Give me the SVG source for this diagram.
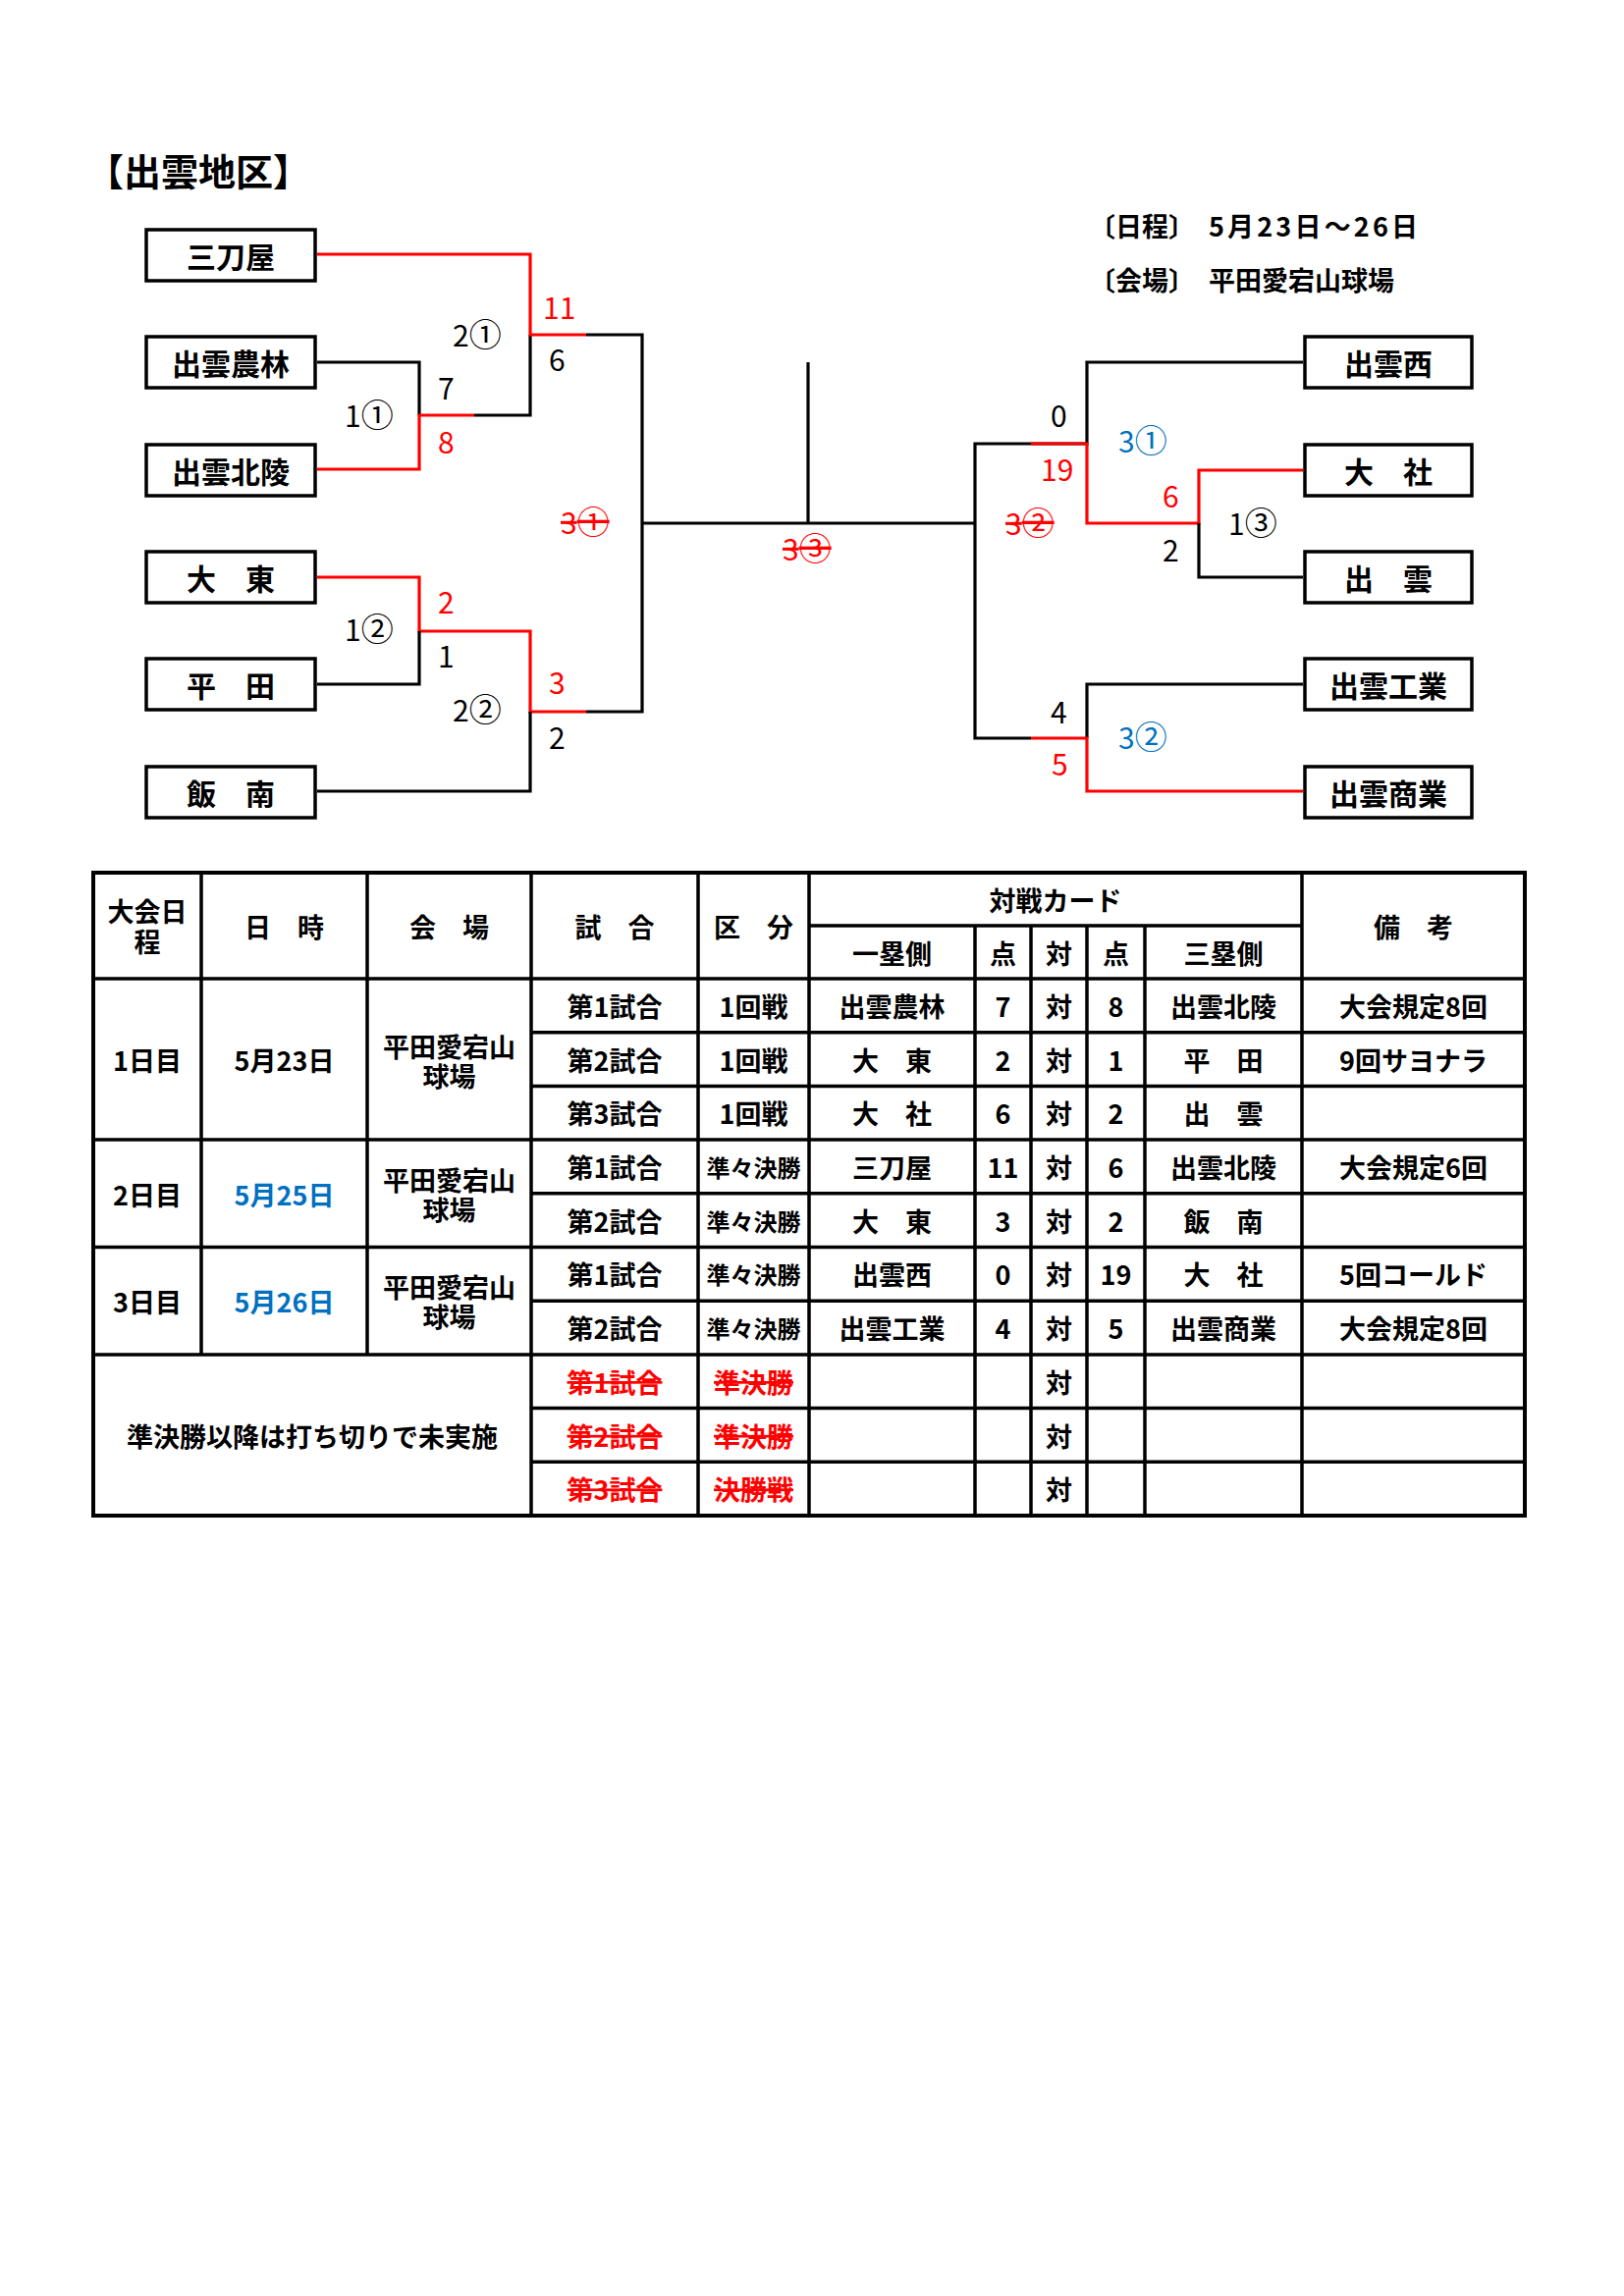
<svg xmlns="http://www.w3.org/2000/svg" width="1654" height="2339" viewBox="0 0 1654 2339">
<style>
text{font-family:"Noto Sans CJK JP","Noto Sans CJK SC",sans-serif;}
.title{font-size:38px;font-weight:700;}
.info{font-size:27px;font-weight:700;}
.box{fill:#fff;stroke:#000;stroke-width:3.5;}
.bt{font-size:30px;font-weight:700;text-anchor:middle;dominant-baseline:central;}
.lb{font-size:30px;}
.c{font-size:33px;}
.red{fill:#ff0000;}
.blue{fill:#0070c0;}
.strike{text-decoration:line-through;}
.k{fill:none;stroke:#000;stroke-width:3.2;}
.r{fill:none;stroke:#ff0000;stroke-width:3.2;}
.tl{stroke:#000;stroke-width:3.5;fill:none;}
.tt{font-size:27px;font-weight:700;text-anchor:middle;dominant-baseline:central;}
.ts{font-size:24px;font-weight:700;text-anchor:middle;dominant-baseline:central;}
</style>

<text class="title" x="88" y="189">【出雲地区】</text>
<text class="info" x="1109" y="241">〔日程〕</text>
<text class="info" x="1231" y="241" textLength="213" lengthAdjust="spacing">5月23日～26日</text>
<text class="info" x="1109" y="296">〔会場〕</text>
<text class="info" x="1231" y="296">平田愛宕山球場</text>

<g id="connectors">
<path class="k" d="M323,369 H427 V423"/>
<path class="r" d="M323,478 H427 V423 H483"/>
<path class="k" d="M483,423 H540 V341"/>
<path class="r" d="M323,259 H540 V341 H597"/>
<path class="k" d="M597,341 H654 V725 H597"/>
<path class="r" d="M323,588 H427 V643 H540 V725 H597"/>
<path class="k" d="M323,697 H427 V643"/>
<path class="k" d="M323,806 H540 V725"/>
<path class="k" d="M654,533 H993"/>
<path class="k" d="M823,369 V533"/>
<path class="k" d="M1327,369 H1107 V452 H1050"/>
<path class="k" d="M1050,452 H993 V752 H1050"/>
<path class="r" d="M1050,452 H1107 V533 H1221 V479 H1327"/>
<path class="k" d="M1221,533 V588 H1327"/>
<path class="k" d="M1327,697 H1107 V752"/>
<path class="r" d="M1050,752 H1107 V806 H1327"/>
</g>

<g id="n-mitoya"><rect class="box" x="149" y="234" width="172" height="52"/><text class="bt" x="235" y="260">三刀屋</text></g>
<g id="n-izumonorin"><rect class="box" x="149" y="343" width="172" height="52"/><text class="bt" x="235" y="369">出雲農林</text></g>
<g id="n-izumohokuryo"><rect class="box" x="149" y="453" width="172" height="52"/><text class="bt" x="235" y="479">出雲北陵</text></g>
<g id="n-daito"><rect class="box" x="149" y="562" width="172" height="52"/><text class="bt" x="235" y="588">大　東</text></g>
<g id="n-hirata"><rect class="box" x="149" y="671" width="172" height="52"/><text class="bt" x="235" y="697">平　田</text></g>
<g id="n-iinan"><rect class="box" x="149" y="781" width="172" height="52"/><text class="bt" x="235" y="807">飯　南</text></g>

<g id="n-izumonishi"><rect class="box" x="1329" y="343" width="170" height="52"/><text class="bt" x="1414" y="369">出雲西</text></g>
<g id="n-taisha"><rect class="box" x="1329" y="453" width="170" height="52"/><text class="bt" x="1414" y="479">大　社</text></g>
<g id="n-izumo"><rect class="box" x="1329" y="562" width="170" height="52"/><text class="bt" x="1414" y="588">出　雲</text></g>
<g id="n-izumokogyo"><rect class="box" x="1329" y="671" width="170" height="52"/><text class="bt" x="1414" y="697">出雲工業</text></g>
<g id="n-izumoshogyo"><rect class="box" x="1329" y="781" width="170" height="52"/><text class="bt" x="1414" y="807">出雲商業</text></g>

<g id="labels">
<text class="lb red" x="553" y="325">11</text>
<text class="lb" x="461" y="353">2<tspan class="c">①</tspan></text>
<text class="lb" x="559" y="378">6</text>
<text class="lb" x="446" y="407">7</text>
<text class="lb" x="351" y="435">1<tspan class="c">①</tspan></text>
<text class="lb red" x="446" y="462">8</text>
<text class="lb red strike" x="571" y="544">3<tspan class="c">①</tspan></text>
<text class="lb red" x="446" y="625">2</text>
<text class="lb" x="351" y="653">1<tspan class="c">②</tspan></text>
<text class="lb" x="446" y="680">1</text>
<text class="lb" x="461" y="735">2<tspan class="c">②</tspan></text>
<text class="lb red" x="559" y="707">3</text>
<text class="lb" x="559" y="763">2</text>
<text class="lb red strike" x="797" y="571">3<tspan class="c">③</tspan></text>
<text class="lb" x="1070" y="435">0</text>
<text class="lb blue" x="1139" y="461">3<tspan class="c">①</tspan></text>
<text class="lb red" x="1060" y="490">19</text>
<text class="lb red" x="1184" y="517">6</text>
<text class="lb red strike" x="1024" y="545">3<tspan class="c">②</tspan></text>
<text class="lb" x="1251" y="545">1<tspan class="c">③</tspan></text>
<text class="lb" x="1184" y="572">2</text>
<text class="lb" x="1070" y="737">4</text>
<text class="lb blue" x="1139" y="763">3<tspan class="c">②</tspan></text>
<text class="lb red" x="1071" y="790">5</text>
</g>

<g id="table">
<rect class="tl" x="95" y="889" width="1458" height="655" style="stroke-width:4"/>
<path class="tl" d="M205,889 V1380 M374,889 V1380 M541,889 V1544 M711,889 V1544 M824,889 V1544 M993,943 V1544 M1050,943 V1544 M1107,943 V1544 M1166,943 V1544 M1326,889 V1544"/>
<path class="tl" d="M824,943 H1326 M95,997 H1553 M541,1051.7 H1553 M541,1106.4 H1553 M95,1161.1 H1553 M541,1215.8 H1553 M95,1270.5 H1553 M541,1325.2 H1553 M95,1379.9 H1553 M541,1434.6 H1553 M541,1489.3 H1553"/>

<text class="tt" x="150" y="927">大会日<tspan x="150" dy="31">程</tspan></text>
<text class="tt" x="289.5" y="943">日　時</text>
<text class="tt" x="457.5" y="943">会　場</text>
<text class="tt" x="626" y="943">試　合</text>
<text class="tt" x="767.5" y="943">区　分</text>
<text class="tt" x="1075" y="916">対戦カード</text>
<text class="tt" x="908.5" y="970">一塁側</text>
<text class="tt" x="1021.5" y="970">点</text>
<text class="tt" x="1078.5" y="970">対</text>
<text class="tt" x="1136.5" y="970">点</text>
<text class="tt" x="1246" y="970">三塁側</text>
<text class="tt" x="1439.5" y="943">備　考</text>

<text class="tt" x="150" y="1079">1日目</text>
<text class="tt" x="289.5" y="1079">5月23日</text>
<text class="tt" x="457.5" y="1065">平田愛宕山<tspan x="457.5" dy="30">球場</tspan></text>
<text class="tt" x="150" y="1216">2日目</text>
<text class="tt blue" x="289.5" y="1216">5月25日</text>
<text class="tt" x="457.5" y="1201">平田愛宕山<tspan x="457.5" dy="30">球場</tspan></text>
<text class="tt" x="150" y="1325">3日目</text>
<text class="tt blue" x="289.5" y="1325">5月26日</text>
<text class="tt" x="457.5" y="1310">平田愛宕山<tspan x="457.5" dy="30">球場</tspan></text>
<text class="tt" x="318" y="1462">準決勝以降は打ち切りで未実施</text>

<text class="tt" x="626" y="1024.4">第1試合</text>
<text class="tt" x="767.5" y="1024.4">1回戦</text>
<text class="tt" x="908.5" y="1024.4">出雲農林</text>
<text class="tt" x="1021.5" y="1024.4">7</text>
<text class="tt" x="1078.5" y="1024.4">対</text>
<text class="tt" x="1136.5" y="1024.4">8</text>
<text class="tt" x="1246" y="1024.4">出雲北陵</text>
<text class="tt" x="1439.5" y="1024.4">大会規定8回</text>

<text class="tt" x="626" y="1079">第2試合</text>
<text class="tt" x="767.5" y="1079">1回戦</text>
<text class="tt" x="908.5" y="1079">大　東</text>
<text class="tt" x="1021.5" y="1079">2</text>
<text class="tt" x="1078.5" y="1079">対</text>
<text class="tt" x="1136.5" y="1079">1</text>
<text class="tt" x="1246" y="1079">平　田</text>
<text class="tt" x="1439.5" y="1079">9回サヨナラ</text>

<text class="tt" x="626" y="1133.8">第3試合</text>
<text class="tt" x="767.5" y="1133.8">1回戦</text>
<text class="tt" x="908.5" y="1133.8">大　社</text>
<text class="tt" x="1021.5" y="1133.8">6</text>
<text class="tt" x="1078.5" y="1133.8">対</text>
<text class="tt" x="1136.5" y="1133.8">2</text>
<text class="tt" x="1246" y="1133.8">出　雲</text>

<text class="tt" x="626" y="1188.4">第1試合</text>
<text class="ts" x="767.5" y="1188.4">準々決勝</text>
<text class="tt" x="908.5" y="1188.4">三刀屋</text>
<text class="tt" x="1021.5" y="1188.4">11</text>
<text class="tt" x="1078.5" y="1188.4">対</text>
<text class="tt" x="1136.5" y="1188.4">6</text>
<text class="tt" x="1246" y="1188.4">出雲北陵</text>
<text class="tt" x="1439.5" y="1188.4">大会規定6回</text>

<text class="tt" x="626" y="1243.2">第2試合</text>
<text class="ts" x="767.5" y="1243.2">準々決勝</text>
<text class="tt" x="908.5" y="1243.2">大　東</text>
<text class="tt" x="1021.5" y="1243.2">3</text>
<text class="tt" x="1078.5" y="1243.2">対</text>
<text class="tt" x="1136.5" y="1243.2">2</text>
<text class="tt" x="1246" y="1243.2">飯　南</text>

<text class="tt" x="626" y="1297.8">第1試合</text>
<text class="ts" x="767.5" y="1297.8">準々決勝</text>
<text class="tt" x="908.5" y="1297.8">出雲西</text>
<text class="tt" x="1021.5" y="1297.8">0</text>
<text class="tt" x="1078.5" y="1297.8">対</text>
<text class="tt" x="1136.5" y="1297.8">19</text>
<text class="tt" x="1246" y="1297.8">大　社</text>
<text class="tt" x="1439.5" y="1297.8">5回コールド</text>

<text class="tt" x="626" y="1352.6">第2試合</text>
<text class="ts" x="767.5" y="1352.6">準々決勝</text>
<text class="tt" x="908.5" y="1352.6">出雲工業</text>
<text class="tt" x="1021.5" y="1352.6">4</text>
<text class="tt" x="1078.5" y="1352.6">対</text>
<text class="tt" x="1136.5" y="1352.6">5</text>
<text class="tt" x="1246" y="1352.6">出雲商業</text>
<text class="tt" x="1439.5" y="1352.6">大会規定8回</text>

<text class="tt red strike" x="626" y="1407.2">第1試合</text>
<text class="tt red strike" x="767.5" y="1407.2">準決勝</text>
<text class="tt" x="1078.5" y="1407.2">対</text>
<text class="tt red strike" x="626" y="1462">第2試合</text>
<text class="tt red strike" x="767.5" y="1462">準決勝</text>
<text class="tt" x="1078.5" y="1462">対</text>
<text class="tt red strike" x="626" y="1516.6">第3試合</text>
<text class="tt red strike" x="767.5" y="1516.6">決勝戦</text>
<text class="tt" x="1078.5" y="1516.6">対</text>
</g>
</svg>
